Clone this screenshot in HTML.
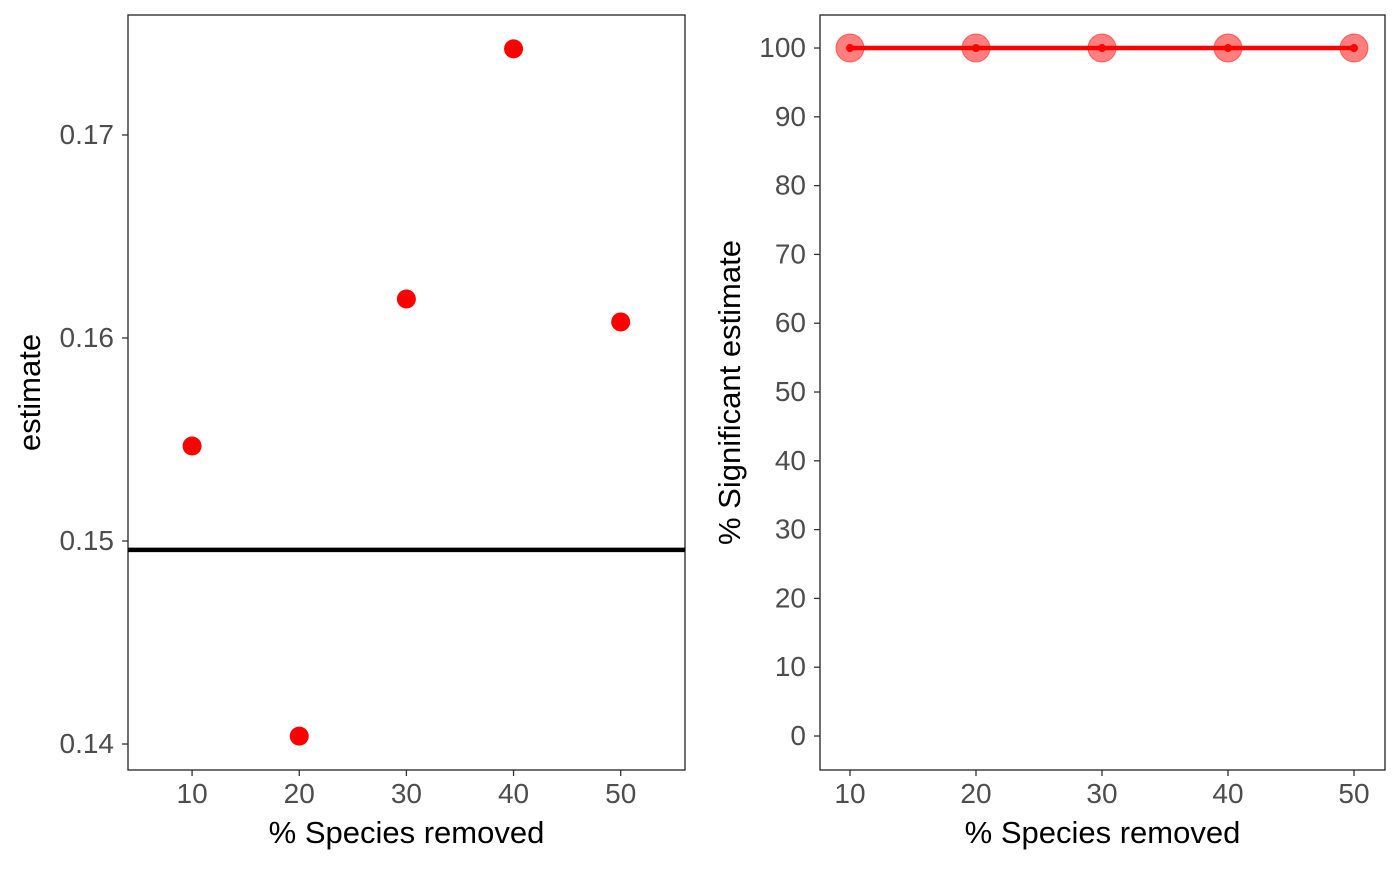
<!DOCTYPE html>
<html><head><meta charset="utf-8"><style>
body{margin:0;background:#fff}
svg text{font-family:"Liberation Sans",Arial,sans-serif}
</style></head><body>
<svg id="s" width="1400" height="866" xmlns="http://www.w3.org/2000/svg"></svg>
<script>
const categories=[10,20,30,40,50];
const estimates=[0.15468,0.14039,0.16192,0.17424,0.16079];
const refLine=0.14956;
const leftTicks=[0.14,0.15,0.16,0.17];
const leftTickLabels=["0.14","0.15","0.16","0.17"];
const sigPct=[100,100,100,100,100];
const rightTicks=[0,10,20,30,40,50,60,70,80,90,100];
const xTicks=[10,20,30,40,50];
const NS="http://www.w3.org/2000/svg";
const svg=document.getElementById('s');
function el(t,a,p){const e=document.createElementNS(NS,t);for(const k in a)e.setAttribute(k,a[k]);(p||svg).appendChild(e);return e;}
function panel(name,L,R,T,B,xd,yd){
  const g=el('g',{});
  
  
  const sx=v=>L+(v-xd[0])/(xd[1]-xd[0])*(R-L);
  const sy=v=>B-(v-yd[0])/(yd[1]-yd[0])*(B-T);
  return {g,sx,sy,L,R,T,B};
}
function axes(p,yt,ylab,ytitle,tx){
  const r=el('rect',{x:p.L,y:p.T,width:p.R-p.L,height:p.B-p.T,fill:'none',stroke:'#222','stroke-width':1.3},p.g);
  
  yt.forEach((v,i)=>{const y=p.sy(v);
    el('line',{x1:p.L-6,x2:p.L,y1:y,y2:y,stroke:'#333','stroke-width':1.3},p.g);
    const t=el('text',{x:p.L-14,y:y+9,'text-anchor':'end','font-size':28,fill:'#4d4d4d'},p.g);t.textContent=ylab[i];
    });
  xTicks.forEach(v=>{const x=p.sx(v);
    el('line',{x1:x,x2:x,y1:p.B,y2:p.B+6,stroke:'#333','stroke-width':1.3},p.g);
    const t=el('text',{x:x,y:p.B+33,'text-anchor':'middle','font-size':28,fill:'#4d4d4d'},p.g);t.textContent=v;
    });
  const xt=el('text',{x:(p.L+p.R)/2,y:843,'text-anchor':'middle','font-size':31,fill:'#000'},p.g);xt.textContent='% Species removed';
  
  const cy=(p.T+p.B)/2;
  const yt2=el('text',{x:tx,y:cy,'text-anchor':'middle','font-size':31,fill:'#000',transform:`rotate(-90 ${tx} ${cy})`},p.g);yt2.textContent=ytitle;
  
}
// left
const A=panel('estimate-panel',128,685,15,770,[4.02,56],[0.13872,0.17591]);
axes(A,leftTicks,leftTickLabels,'estimate',40);
const hl=el('line',{x1:A.L,x2:A.R,y1:A.sy(refLine),y2:A.sy(refLine),stroke:'#000','stroke-width':4.5},A.g);

categories.forEach((c,i)=>{const d=el('circle',{cx:A.sx(c),cy:A.sy(estimates[i]),r:9.5,fill:'#ff0000'},A.g);
  });
// right
const B=panel('significance-panel',820,1385,15,770,[7.62,52.46],[-4.94,104.8]);
axes(B,rightTicks,rightTicks.map(String),'% Significant estimate',740);
let pts=categories.map((c,i)=>B.sx(c)+','+B.sy(sigPct[i])).join(' ');
const pl=el('polyline',{points:pts,fill:'none',stroke:'#ff0000','stroke-width':4.5},B.g);

categories.forEach((c,i)=>{
  const o=el('circle',{cx:B.sx(c),cy:B.sy(sigPct[i]),r:14,fill:'rgba(255,0,0,0.5)',stroke:'rgba(255,0,0,0.5)','stroke-width':1},B.g);
  
  el('circle',{cx:B.sx(c),cy:B.sy(sigPct[i]),r:4,fill:'#ff0000'},B.g);
});
</script>
</body></html>
